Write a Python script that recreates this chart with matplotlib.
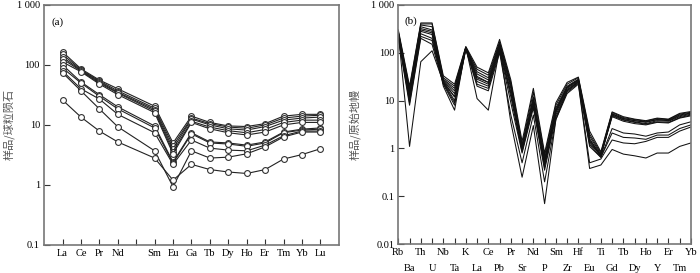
import numpy as np
import matplotlib
matplotlib.use("Agg")
from matplotlib import pyplot as plt

# Panel (a): REE, chondrite normalised
ree = ["La", "Ce", "Pr", "Nd", "Sm", "Eu", "Gd", "Tb", "Dy", "Ho", "Er", "Tm", "Yb", "Lu"]
ree_pos = [0, 1, 2, 3, 5, 6, 7, 8, 9, 10, 11, 12, 13, 14]
ree_ticklabels = ["La", "Ce", "Pr", "Nd", "", "Sm", "Eu", "Ga", "Tb", "Dy", "Ho", "Er", "Tm", "Yb", "Lu"]

a1 = [165, 86, 56, 40, 20.5, 5.0, 14, 11, 9.6, 9.4, 10.5, 14, 15, 15]
a2 = [150, 83, 54, 37, 19, 4.5, 13, 10.5, 9.2, 8.8, 10, 13, 14, 14.5]
a3 = [136, 81, 52, 35, 18, 4.0, 12.5, 10, 8.6, 8.2, 9.4, 12, 13, 13.5]
a4 = [126, 79, 50, 34, 17, 3.6, 11.5, 9.2, 8.0, 7.4, 8.4, 11, 12, 12]
a5 = [112, 77, 48, 32, 16, 3.3, 11, 8.6, 7.4, 6.8, 7.6, 10, 11, 11]
a6 = [100, 52, 32, 20, 9.6, 2.4, 7.4, 5.2, 5.0, 4.6, 5.2, 7.6, 8.5, 8.9]
a7 = [89, 50, 30, 18.5, 8.9, 2.3, 7.1, 5.0, 4.8, 4.4, 5.0, 7.4, 8.2, 8.5]
a8 = [79, 40, 27, 15, 7.4, 2.2, 5.6, 4.1, 3.8, 3.7, 4.6, 6.6, 7.9, 7.9]
a9 = [74, 37, 18.5, 9.3, 3.7, 0.93, 3.7, 2.8, 2.9, 3.3, 4.3, 6.3, 7.6, 7.6]
a10 = [26, 13.5, 7.9, 5.2, 2.8, 1.2, 2.2, 1.8, 1.64, 1.55, 1.8, 2.7, 3.2, 4.0]
ree_samples = [a1, a2, a3, a4, a5, a6, a7, a8, a9, a10]

# Panel (b): trace elements, primitive mantle normalised
spider = ["Rb", "Ba", "Th", "U", "Nb", "Ta", "K", "La", "Ce", "Pb", "Pr", "Sr", "Nd", "P",
          "Sm", "Zr", "Hf", "Eu", "Ti", "Gd", "Tb", "Dy", "Ho", "Y", "Er", "Tm", "Yb"]

b1 = [300, 20, 420, 420, 33, 22, 135, 50, 38, 190, 27, 1.4, 18, 0.8, 9, 24, 31, 2.3, 0.85, 5.8, 4.6, 4.1, 3.8, 4.3, 4.1, 5.4, 5.9]
b2 = [280, 18, 400, 400, 30, 20, 130, 45, 34, 170, 24, 1.2, 15, 0.7, 8, 22, 30, 2.0, 0.8, 5.6, 4.4, 4.0, 3.7, 4.2, 4.0, 5.2, 5.7]
b3 = [270, 15, 380, 350, 28, 18, 130, 40, 30, 160, 22, 1.1, 12, 0.6, 7, 20, 28, 1.8, 0.75, 5.3, 4.2, 3.8, 3.5, 4.0, 3.8, 4.8, 5.4]
b4 = [260, 14, 350, 300, 27, 16, 128, 36, 27, 150, 20, 1.0, 11, 0.55, 6.5, 19, 27, 1.6, 0.7, 5.0, 4.0, 3.6, 3.3, 3.8, 3.7, 4.6, 5.2]
b5 = [250, 12, 320, 280, 26, 14, 125, 32, 24, 140, 18, 0.95, 10, 0.5, 6, 18, 26, 1.4, 0.7, 4.6, 3.7, 3.3, 3.1, 3.5, 3.4, 4.3, 4.8]
b6 = [240, 11, 280, 240, 25, 12, 125, 28, 22, 130, 15, 0.9, 9, 0.45, 5.5, 17, 25, 1.2, 0.65, 2.6, 2.1, 2.0, 1.8, 2.1, 2.2, 3.1, 3.6]
b7 = [230, 10, 250, 200, 24, 10, 122, 25, 20, 120, 12, 0.85, 8, 0.4, 5, 16, 24, 1.1, 0.65, 2.1, 1.7, 1.65, 1.55, 1.9, 1.9, 2.6, 3.1]
b8 = [220, 9, 220, 180, 23, 9, 120, 22, 18, 110, 9, 0.8, 7, 0.35, 4.5, 15, 23, 0.5, 0.6, 1.5, 1.3, 1.25, 1.4, 1.7, 1.7, 2.3, 2.8]
b9 = [200, 8, 200, 150, 22, 8, 118, 20, 16, 100, 5, 0.5, 5, 0.2, 4, 14, 22, 0.38, 0.45, 0.95, 0.76, 0.7, 0.63, 0.8, 0.8, 1.1, 1.3]
b10 = [250, 1.1, 65, 110, 24, 12, 130, 30, 24, 130, 3.5, 0.25, 3, 0.07, 4, 16, 25, 1.3, 0.7, 5.2, 4.2, 3.8, 3.6, 4.0, 3.9, 5.0, 5.5]
b11 = [260, 16, 300, 260, 20, 6.3, 130, 11, 6.3, 120, 14, 1.0, 8, 0.5, 6, 19, 27, 1.5, 0.72, 4.8, 3.9, 3.5, 3.2, 3.6, 3.5, 4.4, 5.0]
spider_samples = [b1, b2, b3, b4, b5, b6, b7, b8, b9, b10, b11]

serif = "Liberation Serif"
cjk = ["Noto Sans CJK SC", "DejaVu Sans"]
spine_col = "#777777"

fig = plt.figure(figsize=(7, 2.73), dpi=100)
ax1 = fig.add_axes([0.063, 0.103, 0.421, 0.879])
ax2 = fig.add_axes([0.569, 0.106, 0.418, 0.876])

for s in ree_samples:
    ax1.plot(ree_pos, s, color="#222222", lw=0.8, marker="o", ms=4.2,
             mfc="white", mec="#333333", mew=0.8)

x2 = np.arange(len(spider))
for s in spider_samples:
    ax2.plot(x2, s, color="#111111", lw=0.75)

for ax in (ax1, ax2):
    ax.set_yscale("log")
    for sp in ax.spines.values():
        sp.set_color(spine_col)
        sp.set_linewidth(1.2)

ax1.set_xlim(-1, 15)
ax1.set_ylim(0.1, 1000)
ax1.set_xticks(range(15))
ax1.set_xticklabels(ree_ticklabels, fontfamily=serif, fontsize=7.5)
ax1.set_yticks([0.1, 1, 10, 100, 1000])
ax1.set_yticklabels(["0.1", "1", "10", "100", "1 000"], fontfamily=serif, fontsize=7.5)
ax1.minorticks_off()
ax1.tick_params(direction="in", length=4, width=0.8, color="#333333", pad=3)
ax1.set_ylabel("样品/球粒陨石", fontfamily=cjk, fontsize=8, color="#555555")
ax1.yaxis.set_label_coords(-0.10, 0.5)
ax1.text(0.025, 0.95, "(a)", transform=ax1.transAxes, fontfamily=serif,
         fontsize=8, va="top", ha="left")

# two rows of element names: even ones on major ticks, odd ones on minor ticks lower down
ax2.set_xlim(0, len(spider) - 1)
ax2.set_ylim(0.01, 1000)
ax2.set_xticks(x2[::2])
ax2.set_xticklabels(spider[::2], fontfamily=serif, fontsize=7.5)
ax2.set_yticks([0.01, 0.1, 1, 10, 100, 1000])
ax2.set_yticklabels(["0.01", "0.1", "1", "10", "100", "1 000"], fontfamily=serif, fontsize=7.5)
ax2.yaxis.set_minor_locator(plt.NullLocator())
ax2.set_xticks(x2[1::2], minor=True)
ax2.set_xticklabels(spider[1::2], minor=True, fontfamily=serif, fontsize=7.5)
ax2.tick_params(direction="in", length=4, width=0.8, color="#333333", pad=3)
ax2.tick_params(axis="x", which="minor", direction="in", length=4, width=0.8,
                color="#333333", pad=14)
ax2.set_ylabel("样品/原始地幔", fontfamily=cjk, fontsize=8, color="#555555")
ax2.yaxis.set_label_coords(-0.13, 0.5)
ax2.text(0.02, 0.95, "(b)", transform=ax2.transAxes, fontfamily=serif,
         fontsize=8, va="top", ha="left")

fig.savefig("out.png", dpi=100)
